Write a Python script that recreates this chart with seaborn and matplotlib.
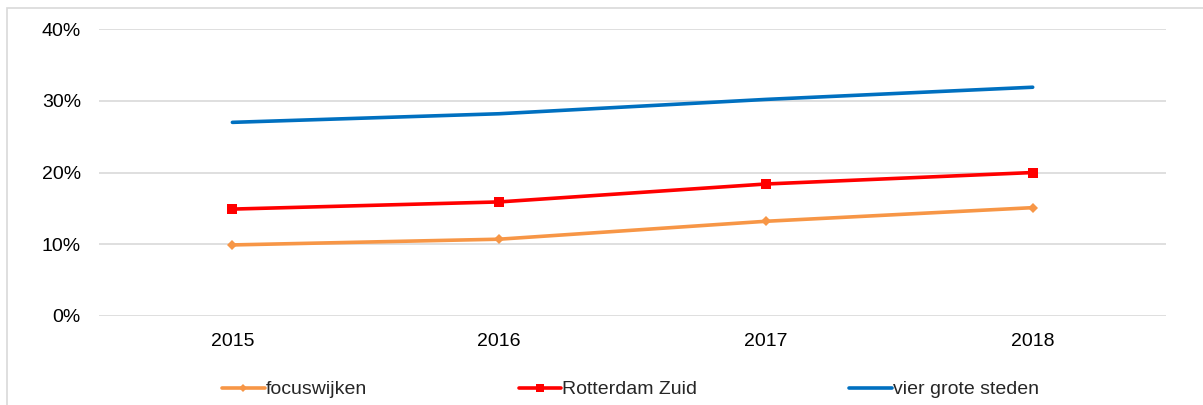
import pandas as pd
import matplotlib
matplotlib.use('Agg')
import matplotlib.pyplot as plt
import seaborn as sns
from matplotlib.patches import Rectangle

years = ['2015', '2016', '2017', '2018']
focuswijken = [9.9, 10.7, 13.2, 15.1]
rotterdam_zuid = [14.9, 15.9, 18.4, 20.0]
vier_grote_steden = [27.0, 28.2, 30.2, 31.9]

series_names = ['focuswijken', 'Rotterdam Zuid', 'vier grote steden']
series_values = [focuswijken, rotterdam_zuid, vier_grote_steden]
colors = ['#F79646', '#FF0000', '#0070C0']
markers = ['D', 's', None]
marker_sizes = [5, 7, 0]

sns.set_style('white')
plt.rcParams['font.family'] = ['Liberation Sans', 'DejaVu Sans']

fig = plt.figure(figsize=(12.03, 4.05), dpi=100)
ax = fig.add_axes([0.0823, 0.22, 0.887, 0.708])

for name, vals, col, mk, ms in zip(series_names, series_values, colors, markers, marker_sizes):
    df = pd.DataFrame({'jaar': years, 'waarde': vals})
    sns.lineplot(data=df, x='jaar', y='waarde', ax=ax, color=col, linewidth=2.6,
                 marker=mk, markersize=ms, markeredgewidth=0, label=name, sort=False)

ax.set_xlim(-0.5, 3.5)
ax.set_ylim(0, 40)
ax.set_yticks([0, 10, 20, 30, 40])
ax.set_yticklabels(['0%', '10%', '20%', '30%', '40%'])
ax.grid(axis='y', color='#D9D9D9', linewidth=1.2)
ax.set_axisbelow(True)
for s in ax.spines.values():
    s.set_visible(False)
ax.tick_params(axis='both', length=0, labelsize=14, colors='#000000')
ax.tick_params(axis='y', pad=13)
ax.tick_params(axis='x', pad=12)
ax.set_xlabel('')
ax.set_ylabel('')

leg = ax.legend(loc='upper center', bbox_to_anchor=(0.498, -0.165), ncol=3, frameon=False,
                fontsize=14, handlelength=2.2, handletextpad=0.05, columnspacing=7.8,
                markerscale=0.8)

fig.patches.append(Rectangle((7 / 1203, -0.01), 1.02, 1 - 8 / 405 + 0.01, transform=fig.transFigure,
                             fill=False, edgecolor='#D9D9D9', linewidth=1.2))

fig.savefig('out.png', dpi=100)
